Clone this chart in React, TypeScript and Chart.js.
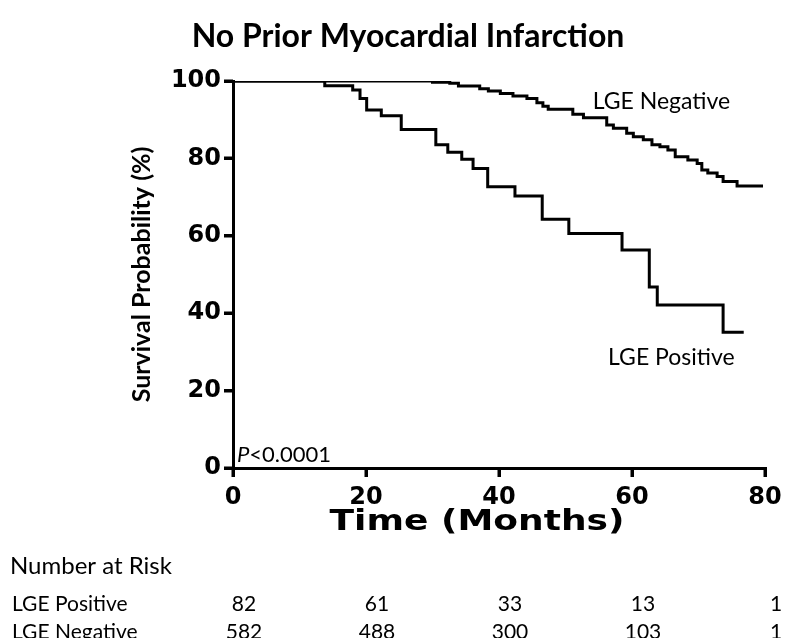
import React, { useEffect, useRef } from "react";
import { Chart, registerables } from "chart.js";

Chart.register(...registerables);

const chartTitle = "No Prior Myocardial Infarction";
const xAxisTitle = "Time (Months)";
const yAxisTitle = "Survival Probability (%)";

const xTickValues = [0, 20, 40, 60, 80];
const yTickValues = [0, 20, 40, 60, 80, 100];

const positiveMonths = [0, 13.8, 18.0, 19.1, 20.1, 22.3, 25.3, 30.5, 32.3, 34.4, 36.1, 38.3, 42.4, 46.5, 50.5, 58.5, 62.6, 63.8, 73.7, 76.8];
const positiveSurvival = [100, 98.8, 97.7, 95.5, 92.5, 91.0, 87.5, 83.5, 81.6, 79.8, 77.4, 72.7, 70.3, 64.3, 60.6, 56.3, 46.8, 42.1, 35.1, 35.1];

const negativeMonths = [0, 30.0, 32.6, 33.9, 37.1, 38.4, 40.2, 42.1, 44.2, 45.7, 46.6, 47.4, 51.1, 52.7, 56.2, 57.2, 59.2, 60.2, 61.7, 63.0, 64.2, 65.4, 66.5, 68.4, 69.8, 70.5, 71.4, 72.8, 73.7, 75.8, 79.7];
const negativeSurvival = [100, 99.7, 99.4, 98.7, 98.0, 97.4, 96.8, 96.1, 95.5, 94.4, 93.5, 92.7, 91.4, 90.5, 88.6, 87.8, 86.5, 85.6, 84.8, 83.5, 83.0, 82.2, 80.4, 79.6, 78.7, 77.0, 76.2, 75.3, 74.0, 72.9, 72.9];

const seriesNames = ["LGE Positive", "LGE Negative"];
const seriesLabelMonths = [56.4, 54.1];
const seriesLabelValues = [28.6, 94.6];

const pValueItalic = "P";
const pValueRest = "<0.0001";

const riskTableTitle = "Number at Risk";
const riskMonths = [0, 20, 40, 60, 80];
const positiveAtRisk = [82, 61, 33, 13, 1];
const negativeAtRisk = [582, 488, 300, 103, 1];

const tickFont = { family: "DejaVu Sans", weight: "bold" as const, size: 24 };
const TICK_LEN = 9;

const overlayPlugin = {
  id: "overlayText",
  afterDraw(chart: any) {
    const { ctx } = chart;
    const x = chart.scales.x;
    const y = chart.scales.y;
    const area = chart.chartArea;
    ctx.save();

    // outward tick marks
    ctx.strokeStyle = "#000";
    ctx.lineWidth = 3;
    ctx.lineCap = "butt";
    ctx.beginPath();
    xTickValues.forEach((v) => {
      const px = Math.round(x.getPixelForValue(v));
      ctx.moveTo(px, area.bottom);
      ctx.lineTo(px, area.bottom + TICK_LEN);
    });
    yTickValues.forEach((v) => {
      const py = Math.round(y.getPixelForValue(v));
      ctx.moveTo(area.left, py);
      ctx.lineTo(area.left - TICK_LEN, py);
    });
    ctx.stroke();

    ctx.fillStyle = "#000";
    ctx.textBaseline = "middle";
    ctx.textAlign = "left";

    // x axis title (wide bold face, stretched to the reference width)
    ctx.save();
    ctx.font = "bold 29px 'DejaVu Sans'";
    const tw = ctx.measureText(xAxisTitle).width;
    ctx.translate(477, 522);
    ctx.scale(295 / tw, 1);
    ctx.textAlign = "center";
    ctx.fillText(xAxisTitle, 0, 0);
    ctx.restore();

    ctx.font = "23px Lato";
    seriesNames.forEach((name, i) => {
      ctx.fillText(name, x.getPixelForValue(seriesLabelMonths[i]), y.getPixelForValue(seriesLabelValues[i]));
    });

    const px = x.getPixelForValue(0.6);
    const py = y.getPixelForValue(3.4);
    ctx.font = "italic 22px Lato";
    ctx.fillText(pValueItalic, px, py);
    const w = ctx.measureText(pValueItalic).width;
    ctx.font = "22px Lato";
    ctx.fillText(pValueRest, px + w, py);

    ctx.font = "24px Lato";
    ctx.fillText(riskTableTitle, 10, 566);
    ctx.font = "21px Lato";
    ctx.fillText(seriesNames[0], 12, 604);
    ctx.fillText(seriesNames[1], 12, 632);
    ctx.textAlign = "center";
    riskMonths.forEach((m, i) => {
      const cx = x.getPixelForValue(m) + 11;
      ctx.fillText(String(positiveAtRisk[i]), cx, 604);
      ctx.fillText(String(negativeAtRisk[i]), cx, 632);
    });
    ctx.restore();
  },
};

const gridOpts = {
  display: true,
  drawOnChartArea: false,
  drawTicks: true,
  tickLength: TICK_LEN,
  color: "#000",
  lineWidth: 3,
  tickColor: "#000",
  tickWidth: 3,
};

export default function App() {
  const ref = useRef<HTMLCanvasElement>(null);
  useEffect(() => {
    if (!ref.current) return;
    const chart = new Chart(ref.current, {
      type: "line",
      data: {
        datasets: [
          {
            label: seriesNames[0],
            data: positiveMonths.map((m, i) => ({ x: m, y: positiveSurvival[i] })),
            borderColor: "#000",
            borderWidth: 3,
            pointRadius: 0,
            fill: false,
            stepped: "before",
          },
          {
            label: seriesNames[1],
            data: negativeMonths.map((m, i) => ({ x: m, y: negativeSurvival[i] })),
            borderColor: "#000",
            borderWidth: 3,
            pointRadius: 0,
            fill: false,
            stepped: "before",
          },
        ],
      },
      options: {
        responsive: false,
        animation: false,
        devicePixelRatio: 1,
        layout: { padding: { left: 51, right: 35, top: 0, bottom: 98 } },
        plugins: {
          legend: { display: false },
          tooltip: { enabled: false },
          title: {
            display: true,
            text: chartTitle,
            color: "#000",
            font: { family: "Lato", weight: "bold", size: 32 },
            padding: { top: 17, bottom: 25.6 },
          },
        },
        scales: {
          x: {
            type: "linear",
            min: 0,
            max: 80,
            afterFit: (s: any) => { s.height = 72; },
            afterBuildTicks: (s: any) => { s.ticks = xTickValues.map((v) => ({ value: v })); },
            ticks: { color: "#000", font: tickFont, padding: 6 },
            grid: gridOpts,
            border: { display: true, color: "#000", width: 3 },
            title: { display: false, text: xAxisTitle },
          },
          y: {
            type: "linear",
            min: 0,
            max: 100,
            afterFit: (s: any) => { s.width = 182; },
            afterBuildTicks: (s: any) => { s.ticks = yTickValues.map((v) => ({ value: v })); },
            ticks: { color: "#000", font: tickFont, padding: 3 },
            grid: gridOpts,
            border: { display: true, color: "#000", width: 3 },
            title: {
              display: true,
              text: yAxisTitle,
              color: "#000",
              font: { family: "Lato", weight: "bold", size: 25 },
              padding: { top: 76, bottom: 0 },
            },
          },
        },
      },
      plugins: [overlayPlugin],
    });
    return () => chart.destroy();
  }, []);
  return (
    <div style={{ position: "fixed", left: 0, top: 0, width: 800, height: 638, background: "#fff" }}>
      <canvas ref={ref} width={800} height={638} style={{ display: "block", width: 800, height: 638 }} />
    </div>
  );
}
